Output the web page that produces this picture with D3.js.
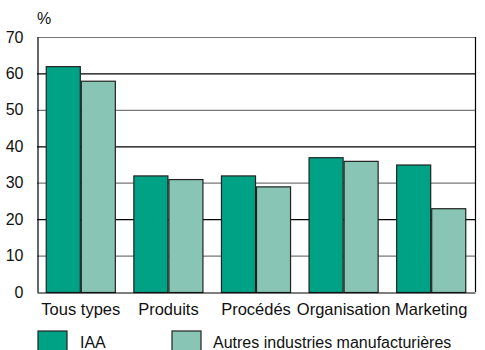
<!DOCTYPE html>
<html>
<head>
<meta charset="utf-8">
<title>Innovation IAA</title>
<script src="https://d3js.org/d3.v7.min.js"></script>
<style>
  body { margin: 0; background: #fff; }
  svg text { font-family: "Liberation Sans", Arial, sans-serif; fill: #111; }
</style>
</head>
<body>
<svg width="485" height="350"></svg>
<script>
// data
const categories = ['Tous types', 'Produits', 'Procédés', 'Organisation', 'Marketing'];
const seriesNames = ['IAA', 'Autres industries manufacturières'];
const iaa = [62, 32, 32, 37, 35];
const autres = [58, 31, 29, 36, 23];
const yTicks = [0, 10, 20, 30, 40, 50, 60, 70];
const colors = ['#00a286', '#88c5b4'];

const svg = d3.select('svg'),
      m = {left: 37, top: 37, right: 10, bottom: 58},
      w = 485 - m.left - m.right,
      h = 350 - m.top - m.bottom;

const x = d3.scaleBand().domain(categories).range([m.left, m.left + w]).paddingInner(0.2).paddingOuter(0.1);
const x0 = d3.scaleBand().domain(categories).range([m.left, m.left + w]);
const xs = d3.scaleBand().domain([0, 1]).range([0, x.bandwidth()]);
const y = d3.scaleLinear().domain([0, 70]).range([m.top + h, m.top]);

// gridlines, alternate grey / black
svg.append('g').selectAll('line').data(yTicks.filter(d => d > 0)).enter().append('line')
  .attr('x1', m.left).attr('x2', m.left + w)
  .attr('y1', d => y(d) + 0.5).attr('y2', d => y(d) + 0.5)
  .attr('stroke', d => (d / 10) % 2 ? '#777' : '#000')
  .attr('stroke-width', 1.2);

// right border
svg.append('line').attr('x1', m.left + w + 0.5).attr('x2', m.left + w + 0.5)
  .attr('y1', y(70)).attr('y2', y(0)).attr('stroke', '#000').attr('stroke-width', 1.2);

// bars
const rows = categories.map((c, i) => ({c: c, v: [iaa[i], autres[i]]}));
const grp = svg.append('g').selectAll('g').data(rows).enter().append('g')
  .attr('transform', d => 'translate(' + x(d.c) + ',0)');
grp.selectAll('rect').data(d => d.v.map((v, k) => ({v: v, k: k}))).enter().append('rect')
  .attr('x', d => xs(d.k) + 0.5)
  .attr('y', d => y(d.v) + 0.5)
  .attr('width', xs.bandwidth() - 1)
  .attr('height', d => y(0) - y(d.v))
  .attr('fill', d => colors[d.k])
  .attr('stroke', '#222').attr('stroke-width', 1.2);

// axes
const yAxis = svg.append('g').attr('transform', 'translate(' + (m.left + 0.5) + ',0)')
  .call(d3.axisLeft(y).tickValues(yTicks).tickSize(0).tickPadding(14));
yAxis.select('.domain').attr('stroke', '#000').attr('stroke-width', 1.2);
yAxis.selectAll('text').style('font-size', '16px');

const xAxis = svg.append('g').attr('transform', 'translate(0,' + (y(0) + 0.5) + ')')
  .call(d3.axisBottom(x0).tickSize(0).tickPadding(11));
xAxis.select('.domain').attr('stroke', '#000').attr('stroke-width', 1.2);
xAxis.selectAll('text').style('font-size', '16.5px');

svg.append('text').attr('x', 37).attr('y', 24).style('font-size', '16px').text('%');

// legend
const lx = [38, 172];
const leg = svg.append('g').selectAll('g').data(seriesNames).enter().append('g')
  .attr('transform', (d, i) => 'translate(' + lx[i] + ',331)');
leg.append('rect').attr('width', 29).attr('height', 22)
  .attr('fill', (d, i) => colors[i]).attr('stroke', '#222').attr('stroke-width', 1.2);
leg.append('text').attr('x', (d, i) => i ? 41 : 42).attr('y', 17)
  .style('font-size', '16px').text(d => d);
</script>
</body>
</html>
